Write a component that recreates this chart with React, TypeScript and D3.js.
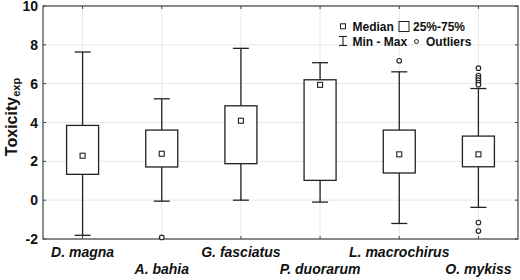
import React from "react";
import * as d3 from "d3";

// box statistics per species
const species = ["D. magna", "A. bahia", "G. fasciatus", "P. duorarum", "L. macrochirus", "O. mykiss"];
const mins = [-1.81, -0.05, 0.0, -0.1, -1.2, -0.37];
const q1s = [1.33, 1.71, 1.88, 1.02, 1.4, 1.72];
const medians = [2.29, 2.39, 4.09, 5.94, 2.36, 2.36];
const q3s = [3.85, 3.61, 4.86, 6.2, 3.61, 3.3];
const maxs = [7.63, 5.22, 7.82, 7.08, 6.61, 5.75];
const outliers = [[], [-1.92], [], [], [7.18], [6.8, 6.42, 6.3, 6.18, 6.06, 5.95, -1.15, -1.59]];
const yTicks = [-2, 0, 2, 4, 6, 8, 10];

const W = 520, H = 280;
const margin = { top: 6, right: 2, bottom: 41, left: 43 };

export default function App() {
  const x = d3
    .scaleBand()
    .domain(species)
    .range([margin.left, W - margin.right])
    .padding(0);
  const y = d3.scaleLinear().domain([-2, 10]).range([H - margin.bottom, margin.top]);

  const boxW = 32;
  const capW = 16;
  const cx = (s) => x(s) + x.bandwidth() / 2;
  const font = "Arial, 'Liberation Sans', sans-serif";
  const x0 = margin.left, x1 = W - margin.right;
  const y0 = y(-2), y1 = y(10);

  return (
    <svg width={W} height={H} style={{ position: "absolute", left: 0, top: 0 }} fontFamily={font}>
      <rect width={W} height={H} fill="#fff" />
      {/* grid */}
      {yTicks.map((t) => (
        <line key={"gy" + t} x1={x0} x2={x1} y1={y(t)} y2={y(t)} stroke="#e8e8e8" strokeWidth={1} />
      ))}
      {species.map((s) => (
        <line key={"gx" + s} x1={cx(s)} x2={cx(s)} y1={y0} y2={y1} stroke="#e8e8e8" strokeWidth={1} />
      ))}
      {/* inner ticks */}
      {yTicks.map((t) => (
        <g key={"tk" + t}>
          <line x1={x0} x2={x0 + 3} y1={y(t)} y2={y(t)} stroke="#444" />
          <line x1={x1 - 3} x2={x1} y1={y(t)} y2={y(t)} stroke="#444" />
        </g>
      ))}
      {species.map((s) => (
        <g key={"tx" + s}>
          <line x1={cx(s)} x2={cx(s)} y1={y0} y2={y0 - 3} stroke="#444" />
          <line x1={cx(s)} x2={cx(s)} y1={y1} y2={y1 + 3} stroke="#444" />
        </g>
      ))}
      {/* frame */}
      <rect x={x0} y={y1} width={x1 - x0} height={y0 - y1} fill="none" stroke="#444" strokeWidth={1.2} />

      {/* boxes */}
      {species.map((s, i) => {
        const c = cx(s);
        return (
          <g key={s} stroke="#222" strokeWidth={1.3} fill="none">
            <line x1={c} x2={c} y1={y(maxs[i])} y2={y(q3s[i])} />
            <line x1={c} x2={c} y1={y(q1s[i])} y2={y(mins[i])} />
            <line x1={c - capW / 2} x2={c + capW / 2} y1={y(maxs[i])} y2={y(maxs[i])} />
            <line x1={c - capW / 2} x2={c + capW / 2} y1={y(mins[i])} y2={y(mins[i])} />
            <rect x={c - boxW / 2} y={y(q3s[i])} width={boxW} height={y(q1s[i]) - y(q3s[i])} fill="#fff" />
            <rect x={c - 2.5} y={y(medians[i]) - 2.5} width={5} height={5} strokeWidth={1.1} />
            {outliers[i].map((o, j) => (
              <circle key={j} cx={c} cy={y(o)} r={2.3} strokeWidth={1.1} fill="#fff" />
            ))}
          </g>
        );
      })}

      {/* y tick labels */}
      {yTicks.map((t) => (
        <text key={"yl" + t} x={38} y={y(t)} dy="0.36em" textAnchor="end" fontSize={14} fontWeight="bold" fill="#111">
          {t}
        </text>
      ))}
      {/* y axis title */}
      <text transform={`translate(17,117) rotate(-90)`} textAnchor="middle" fontSize={16} fontWeight="bold" fill="#111">
        Toxicity<tspan fontSize={11} dy={3}>exp</tspan>
      </text>

      {/* x labels, alternating rows */}
      {species.map((s, i) => (
        <text key={"xl" + s} x={cx(s)} y={i % 2 === 0 ? 257 : 274} textAnchor="middle" fontSize={14} fontWeight="bold" fontStyle="italic" fill="#111">
          {s}
        </text>
      ))}

      {/* legend */}
      <g fontSize={12} fontWeight="bold" fill="#111">
        <rect x={340.5} y={23.8} width={5} height={5} fill="none" stroke="#222" strokeWidth={1} />
        <text x={352.5} y={30.5}>Median</text>
        <rect x={399} y={21.5} width={10} height={10} fill="none" stroke="#222" strokeWidth={1} />
        <text x={413} y={30.5}>25%-75%</text>
        <g stroke="#222" strokeWidth={1.1}>
          <line x1={343} x2={343} y1={36.5} y2={45.5} />
          <line x1={339} x2={347} y1={36.5} y2={36.5} />
          <line x1={339} x2={347} y1={45.5} y2={45.5} />
        </g>
        <text x={352.5} y={45.5}>Min - Max</text>
        <circle cx={416.5} cy={41.5} r={2} fill="none" stroke="#222" strokeWidth={1} />
        <text x={426} y={45.5}>Outliers</text>
      </g>
    </svg>
  );
}
